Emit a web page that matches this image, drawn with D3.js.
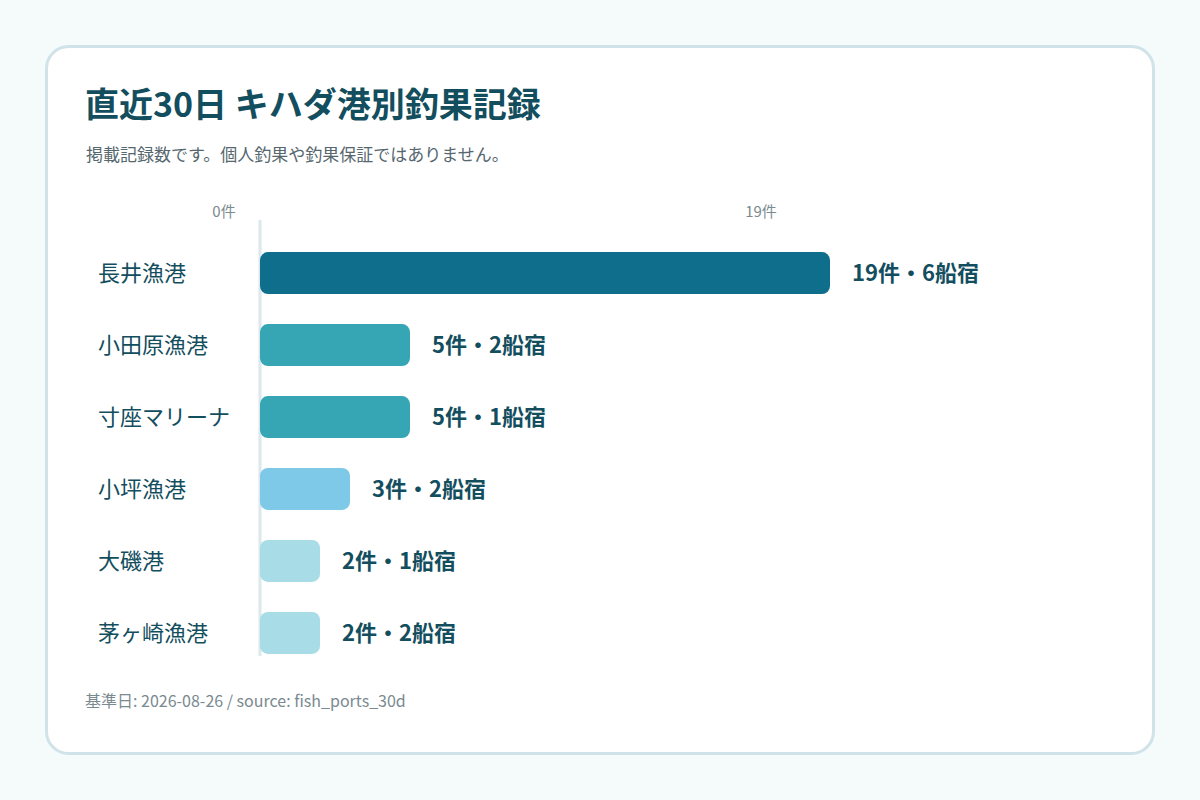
<!DOCTYPE html>
<html>
  <head>
    <meta charset="utf-8">
    <script src="https://d3js.org/d3.v7.min.js"></script>
    <style>
      body { margin: 0; background: #f5fafb; font-family: "Noto Sans CJK JP", "Noto Sans", sans-serif; }
    </style>
  </head>
  <body>
    <div id="chart"></div>
    <script>
      // data
      var ports = ["長井漁港", "小田原漁港", "寸座マリーナ", "小坪漁港", "大磯港", "茅ヶ崎漁港"];
      var counts = [19, 5, 5, 3, 2, 2];
      var inns = [6, 2, 1, 2, 1, 2];
      var tickValues = [0, 19];
      var colors = ["#0e6e8c", "#36a6b5", "#36a6b5", "#7ec8e8", "#a8dce6", "#a8dce6"];

      var svg = d3.select("#chart").append("svg")
        .attr("width", 1200).attr("height", 800);

      svg.append("rect").attr("x", 46.5).attr("y", 46.5).attr("width", 1107).attr("height", 707)
        .attr("rx", 22).attr("fill", "#fff").attr("stroke", "#cfe3e8").attr("stroke-width", 3);

      svg.append("text").attr("x", 85).attr("y", 117).text("直近30日 キハダ港別釣果記録")
        .attr("font-size", 34).attr("font-weight", 700).attr("fill", "#134e5e");
      svg.append("text").attr("x", 86).attr("y", 161).text("掲載記録数です。個人釣果や釣果保証ではありません。")
        .attr("font-size", 17).attr("fill", "#56676e");

      var x = d3.scaleLinear().domain([0, 19]).range([260, 830]);
      var tickX = d3.scaleLinear().domain([0, 19]).range([224, 761]);
      var y = d3.scaleBand().domain(ports).range([237, 669]).paddingInner(0.417).paddingOuter(0.21);

      svg.selectAll(".tick").data(tickValues).enter().append("text")
        .attr("x", function(d) { return tickX(d); }).attr("y", 217)
        .attr("text-anchor", "middle").attr("font-size", 15).attr("fill", "#7a8a90")
        .text(function(d) { return d + "件"; });

      svg.append("line").attr("x1", 260).attr("x2", 260).attr("y1", 220).attr("y2", 656)
        .attr("stroke", "#dce8ec").attr("stroke-width", 3);

      var row = svg.selectAll(".row").data(ports).enter().append("g");
      row.append("rect")
        .attr("x", x(0)).attr("y", function(d) { return y(d); })
        .attr("width", function(d, i) { return x(counts[i]) - x(0); })
        .attr("height", y.bandwidth()).attr("rx", 8)
        .attr("fill", function(d, i) { return colors[i]; });
      row.append("text").attr("x", 98).attr("y", function(d) { return y(d) + y.bandwidth() / 2; })
        .attr("dy", "0.36em").attr("font-size", 22).attr("fill", "#134e5e").text(function(d) { return d; });
      row.append("text").attr("x", function(d, i) { return x(counts[i]) + 22; })
        .attr("y", function(d) { return y(d) + y.bandwidth() / 2; })
        .attr("dy", "0.36em").attr("font-size", 22).attr("font-weight", 700).attr("fill", "#134e5e")
        .text(function(d, i) { return counts[i] + "件・" + inns[i] + "船宿"; });

      svg.append("text").attr("x", 85).attr("y", 707).text("基準日: 2026-08-26 / source: fish_ports_30d")
        .attr("font-size", 16).attr("fill", "#7a8a90");
    </script>
  </body>
</html>
